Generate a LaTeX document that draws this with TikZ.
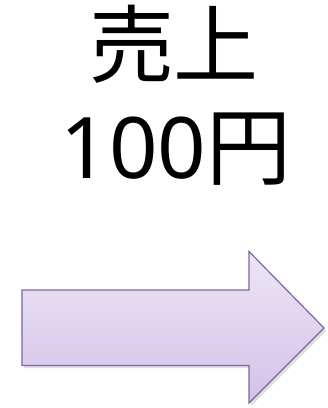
\documentclass[tikz,border=0pt]{standalone}
\usepackage{fontspec}
\newfontfamily\jp{Noto Sans CJK JP}
\newfontfamily\lat{Noto Sans}
\definecolor{arrowline}{HTML}{8064A2}
\definecolor{arrowtop}{HTML}{ECE6F5}
\definecolor{arrowbot}{HTML}{D2C2E8}
\tikzset{
  bigtext/.style={font=\jp\fontsize{85}{90}\selectfont, inner sep=0pt, anchor=center},
  blockarrow/.style={draw=arrowline, line width=1.2pt, top color=arrowtop, bottom color=arrowbot, line join=miter}
}
\begin{document}
\begin{tikzpicture}[x=1pt,y=-1pt]
\useasboundingbox (0,0) rectangle (328,408);
\node[bigtext] (t1) at (174,44) {売上};
\node[bigtext] (t2) at (176,149) {{\lat 100}円};
\fill[black!25, opacity=0.5] (24,293) -- (251,293) -- (251,254.5) -- (326,331) -- (251,406) -- (251,368) -- (24,368) -- cycle;
\draw[blockarrow] (22,290) -- (249,290) -- (249,251.5) -- (324,328) -- (249,403) -- (249,365.5) -- (22,365.5) -- cycle;
\end{tikzpicture}
\end{document}
